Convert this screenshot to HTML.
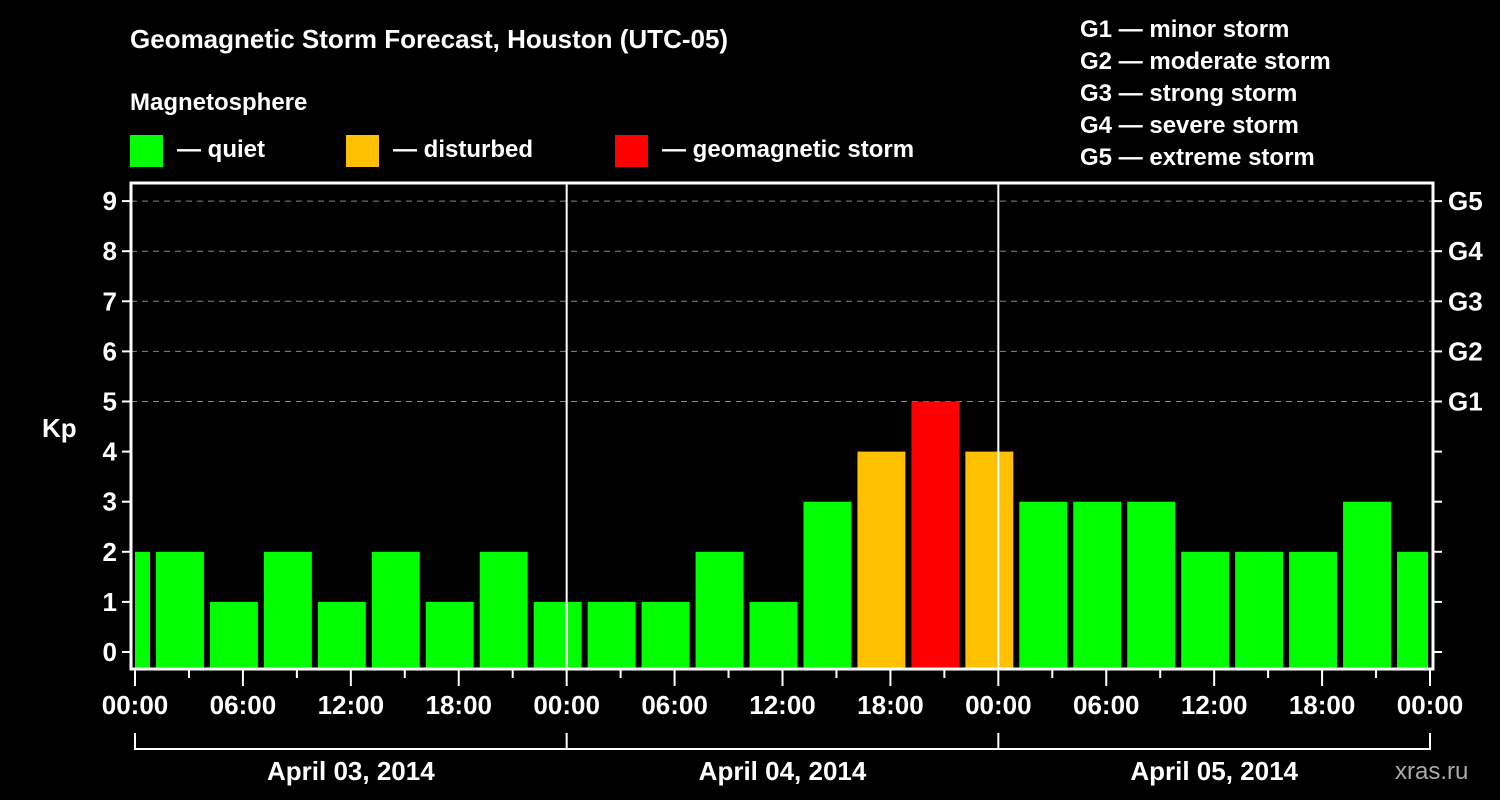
<!DOCTYPE html>
<html><head><meta charset="utf-8"><style>
body{margin:0;background:#000;width:1500px;height:800px;overflow:hidden}
svg{display:block;font-family:"Liberation Sans",sans-serif;font-weight:bold;fill:#fff}
</style></head><body>
<svg id="c" width="1500" height="800">
<text x="130" y="48" font-size="26">Geomagnetic Storm Forecast, Houston (UTC-05)</text>
<text x="130" y="110" font-size="24">Magnetosphere</text>
<g><rect x="130" y="135" width="33" height="32" fill="#00ff00"/><text x="177" y="157" font-size="24">— quiet</text></g>
<g><rect x="346" y="135" width="33" height="32" fill="#ffc000"/><text x="393" y="157" font-size="24">— disturbed</text></g>
<g><rect x="615" y="135" width="33" height="32" fill="#ff0000"/><text x="662" y="157" font-size="24">— geomagnetic storm</text></g>
<g font-size="24">
<text x="1080" y="37">G1 — minor storm</text><text x="1080" y="69">G2 — moderate storm</text><text x="1080" y="101">G3 — strong storm</text><text x="1080" y="133">G4 — severe storm</text><text x="1080" y="165">G5 — extreme storm</text></g>
<text x="42" y="437" font-size="26">Kp</text>
<text x="1395" y="779" font-size="24" fill="#aaa" style="fill:#aaa;font-weight:normal">xras.ru</text>
<g id="grid"></g><g id="bars"></g><g id="axes"></g>
</svg>
<script>
const kpValues=[2,2,1,2,1,2,1,2,1,1,1,2,1,3,4,5,4,3,3,3,2,2,2,3,2];
const slotStartHours=[-2,1,4,7,10,13,16,19,22,25,28,31,34,37,40,43,46,49,52,55,58,61,64,67,70];
const xTickLabels=["00:00","06:00","12:00","18:00","00:00","06:00","12:00","18:00","00:00","06:00","12:00","18:00","00:00"];
const dateLabels=["April 03, 2014","April 04, 2014","April 05, 2014"];
const gLabels=["G1","G2","G3","G4","G5"];
const NS="http://www.w3.org/2000/svg";
const X0=135,X1=1430,H=72,Y0=652,PU=50.1,TOP=183,BOT=669,LA=131,RA=1433;
const x=h=>X0+(h/H)*(X1-X0);
const y=v=>Y0-v*PU;
function mk(tag,attrs,parent){const e=document.createElementNS(NS,tag);for(const k in attrs)e.setAttribute(k,attrs[k]);document.getElementById(parent).appendChild(e);return e;}
for(let v=0;v<=9;v++){
 if(v>=5){const g=mk('line',{x1:LA,x2:RA,y1:y(v),y2:y(v),stroke:'#888','stroke-dasharray':'6,5','stroke-width':1},'grid');
 
 }
 const t=mk('line',{x1:LA-9,x2:LA,y1:y(v),y2:y(v),stroke:'#fff','stroke-width':2},'axes');
 
 
 const t2=mk('line',{x1:RA,x2:RA+9,y1:y(v),y2:y(v),stroke:'#fff','stroke-width':2},'axes');
 
 
 const l=mk('text',{x:LA-14,y:y(v)+9,'text-anchor':'end','font-size':26},'axes');l.textContent=v;
 
 
 if(v>=5){const g=mk('text',{x:1448,y:y(v)+9,'font-size':26},'axes');g.textContent=gLabels[v-5];
 
 }
}
kpValues.forEach((v,i)=>{
 let a=x(slotStartHours[i])+3,b=x(slotStartHours[i]+3)-3;
 a=Math.max(a,X0);b=Math.min(b,X1-2);
 const col=v>=5?'#ff0000':(v>=4?'#ffc000':'#00ff00');
 const r=mk('rect',{x:a,y:y(v),width:b-a,height:BOT-y(v),fill:col},'bars');
 
 
});
[1,2].forEach(d=>{const l=mk('line',{x1:x(d*24),x2:x(d*24),y1:TOP,y2:BOT,stroke:'#fff','stroke-width':2},'axes');
 
 });
const f=mk('path',{d:`M${LA},${BOT}V${TOP}H${RA}V${BOT}Z`,fill:'none',stroke:'#fff','stroke-width':3},'axes');


for(let h=0;h<=H;h+=3){const maj=h%6===0;
 const t=mk('line',{x1:x(h),x2:x(h),y1:BOT,y2:BOT+(maj?17:9),stroke:'#fff','stroke-width':2},'axes');
 
 }
xTickLabels.forEach((s,i)=>{const t=mk('text',{x:x(i*6),y:714,'text-anchor':'middle','font-size':26},'axes');t.textContent=s;
 
 });
mk('path',{d:`M${x(0)},733V749H${x(72)}V733M${x(24)},733V749M${x(48)},733V749`,fill:'none',stroke:'#fff','stroke-width':2},'axes');
dateLabels.forEach((s,i)=>{const t=mk('text',{x:x(i*24+12),y:780,'text-anchor':'middle','font-size':26},'axes');t.textContent=s;
 
 });
</script>
</body></html>
